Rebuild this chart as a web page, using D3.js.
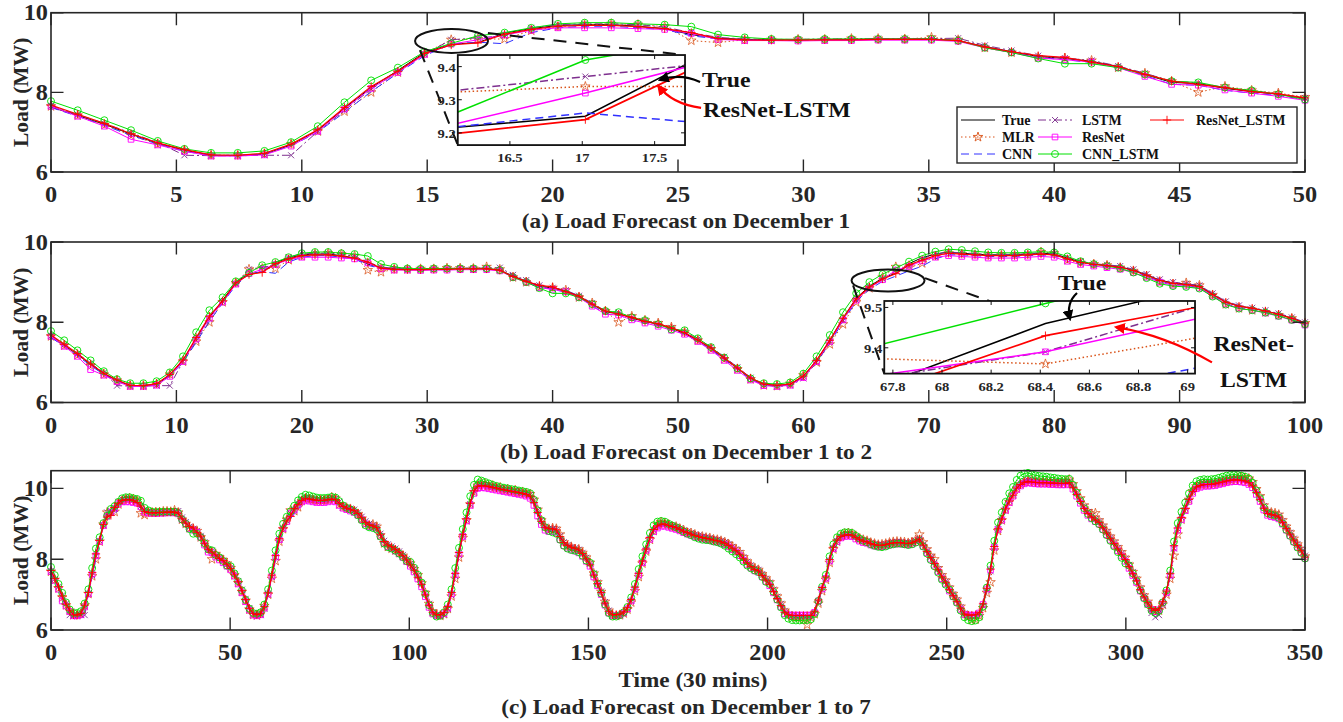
<!DOCTYPE html>
<html>
<head>
<meta charset="utf-8">
<script src="https://cdn.jsdelivr.net/npm/d3@7"></script>
<style>
  body { margin: 0; background: #fff; }
  text { font-family: "Liberation Serif", "Times New Roman", serif; font-weight: bold; fill: #262626; }
</style>
</head>
<body>
<svg id="chart" width="1343" height="722"></svg>
<script>
// ---- data: one value per 30 min, Dec 1 .. Dec 7 (336 points) ----
var trueLoad = [
  7.63,7.42,7.20,6.95,6.72,6.55,6.42,6.41,6.45,6.68,7.05,7.60,8.12,8.55,9.00,9.21,9.25,9.49,9.60,9.68,9.70,9.70,9.66,9.60,9.45,9.36,9.33,9.32,9.32,9.33,9.33,9.34,9.34,9.34,9.30,9.15,9.02,8.90,8.85,8.78,8.65,8.45,8.25,8.22,8.10,8.02,7.95,7.85,
  7.72,7.55,7.35,7.10,6.85,6.60,6.45,6.42,6.45,6.65,7.05,7.55,8.10,8.60,8.90,9.10,9.22,9.46,9.61,9.70,9.75,9.72,9.70,9.68,9.68,9.68,9.70,9.72,9.70,9.60,9.50,9.45,9.42,9.38,9.30,9.18,9.05,8.98,8.95,8.90,8.70,8.50,8.40,8.35,8.28,8.20,8.10,7.98,
  7.85,7.70,7.50,7.30,7.00,6.70,6.50,6.42,6.42,6.48,6.65,7.05,7.60,8.20,8.70,9.15,9.60,9.95,10.10,10.12,10.10,10.08,10.05,10.03,10.00,9.98,9.96,9.94,9.92,9.90,9.88,9.85,9.80,9.60,9.30,9.05,8.88,8.85,8.85,8.82,8.62,8.45,8.38,8.33,8.30,8.25,8.15,8.00,
  7.85,7.55,7.30,7.05,6.75,6.52,6.42,6.42,6.44,6.50,6.62,6.85,7.20,7.60,7.95,8.30,8.62,8.85,8.95,9.00,9.00,8.96,8.93,8.90,8.85,8.80,8.76,8.72,8.68,8.65,8.62,8.60,8.58,8.55,8.53,8.50,8.46,8.40,8.32,8.25,8.15,8.02,7.90,7.80,7.72,7.68,7.55,7.42,
  7.30,7.10,6.90,6.70,6.50,6.42,6.40,6.40,6.40,6.40,6.40,6.40,6.52,6.85,7.20,7.50,8.00,8.35,8.55,8.65,8.69,8.70,8.69,8.62,8.56,8.52,8.50,8.45,8.42,8.40,8.40,8.42,8.45,8.47,8.48,8.48,8.46,8.45,8.47,8.52,8.58,8.40,8.22,8.05,7.88,7.70,7.50,7.35,
  7.15,6.98,6.82,6.62,6.45,6.42,6.42,6.43,6.50,6.75,7.20,7.75,8.40,8.90,9.16,9.45,9.68,9.85,10.05,10.15,10.22,10.25,10.22,10.21,10.20,10.20,10.20,10.19,10.19,10.18,10.18,10.18,10.20,10.05,9.85,9.65,9.45,9.30,9.20,9.12,9.05,8.90,8.75,8.60,8.45,8.30,8.15,8.00,
  7.80,7.60,7.40,7.15,6.95,6.78,6.62,6.55,6.60,6.80,7.10,7.60,8.40,8.90,9.20,9.45,9.72,9.95,10.08,10.12,10.15,10.15,10.16,10.17,10.20,10.22,10.25,10.27,10.28,10.28,10.27,10.25,10.20,10.10,9.90,9.70,9.45,9.30,9.27,9.25,9.20,9.05,8.88,8.72,8.55,8.40,8.25,8.07
];
var mlrLoad = [
  7.65,7.42,7.18,6.92,6.70,6.55,6.42,6.42,6.46,6.70,7.02,7.52,8.00,8.50,8.98,9.32,9.34,9.34,9.55,9.65,9.70,9.72,9.70,9.65,9.30,9.25,9.32,9.32,9.33,9.33,9.35,9.35,9.34,9.38,9.32,9.12,9.00,8.88,8.86,8.80,8.62,8.48,8.28,8.00,8.15,8.05,7.98,7.88,
  7.75,7.55,7.33,7.08,6.83,6.58,6.43,6.41,6.47,6.68,7.00,7.45,7.95,8.50,8.85,9.12,9.38,9.36,9.47,9.65,9.72,9.70,9.68,9.66,9.67,9.67,9.68,9.75,9.72,9.55,9.48,9.45,9.42,9.36,9.28,9.15,9.00,8.95,8.98,8.92,8.68,8.45,8.35,8.30,8.25,8.18,8.10,7.98,
  7.88,7.72,7.55,7.32,7.05,6.74,6.52,6.44,6.40,6.45,6.60,6.95,7.45,8.05,8.60,9.10,9.55,9.90,10.08,10.15,10.12,10.06,10.08,10.02,10.03,9.96,9.98,9.92,9.95,9.88,9.90,9.86,9.84,9.68,9.40,9.10,8.92,8.83,8.88,8.86,8.70,8.48,8.36,8.35,8.28,8.28,8.18,8.05,
  7.90,7.60,7.35,7.08,6.80,6.55,6.43,6.40,6.42,6.47,6.58,6.78,7.10,7.50,7.88,8.22,8.55,8.80,8.98,9.05,9.02,8.98,8.92,8.92,8.86,8.82,8.75,8.74,8.70,8.64,8.64,8.61,8.60,8.56,8.55,8.52,8.48,8.43,8.36,8.28,8.20,8.06,7.94,7.82,7.74,7.70,7.58,7.46,
  7.35,7.15,6.95,6.75,6.55,6.45,6.38,6.35,6.36,6.30,6.15,6.35,6.45,6.75,7.10,7.42,7.90,8.28,8.50,8.64,8.72,8.74,8.72,8.66,8.58,8.55,8.52,8.47,8.44,8.41,8.42,8.44,8.47,8.49,8.50,8.49,8.48,8.46,8.48,8.55,8.70,8.48,8.28,8.10,8.00,7.75,7.55,7.40,
  7.20,7.02,6.86,6.66,6.48,6.38,6.28,6.30,6.40,6.62,7.05,7.35,8.25,8.80,9.10,9.40,9.62,9.82,10.00,10.12,10.18,10.22,10.24,10.20,10.22,10.18,10.21,10.17,10.20,10.16,10.19,10.20,10.25,10.12,9.92,9.72,9.52,9.36,9.28,9.30,9.10,8.95,8.80,8.64,8.50,8.34,8.20,8.04,
  7.85,7.64,7.45,7.20,6.98,6.80,6.62,6.52,6.55,6.72,7.00,7.45,8.10,8.70,9.12,9.40,9.68,9.92,10.06,10.12,10.15,10.13,10.16,10.15,10.18,10.20,10.22,10.25,10.27,10.30,10.32,10.30,10.28,10.18,9.98,9.78,9.52,9.36,9.32,9.30,9.26,9.10,8.92,8.76,8.58,8.42,8.28,8.08
];
var cnnLoad = [
  7.62,7.40,7.17,6.92,6.70,6.52,6.42,6.42,6.45,6.66,7.00,7.50,8.02,8.48,8.92,9.21,9.26,9.22,9.50,9.62,9.66,9.66,9.62,9.58,9.42,9.34,9.32,9.31,9.31,9.32,9.32,9.33,9.33,9.33,9.30,9.14,9.00,8.88,8.82,8.75,8.62,8.42,8.20,8.18,8.05,7.98,7.92,7.82,
  7.70,7.52,7.32,7.08,6.83,6.58,6.44,6.42,6.45,6.64,7.00,7.48,8.02,8.52,8.82,9.02,9.15,9.28,9.40,9.58,9.68,9.68,9.66,9.64,9.64,9.64,9.66,9.68,9.66,9.57,9.47,9.42,9.39,9.35,9.27,9.15,9.02,8.95,8.92,8.86,8.66,8.46,8.36,8.31,8.24,8.16,8.06,7.95,
  7.82,7.66,7.47,7.26,6.97,6.68,6.49,6.41,6.43,6.50,6.68,7.08,7.62,8.18,8.66,9.10,9.55,9.90,10.05,10.08,10.07,10.05,10.02,10.00,9.97,9.95,9.93,9.91,9.89,9.87,9.85,9.82,9.76,9.58,9.30,9.06,8.90,8.84,8.82,8.78,8.60,8.44,8.36,8.31,8.28,8.22,8.12,7.97,
  7.80,7.52,7.27,7.02,6.73,6.51,6.42,6.43,6.45,6.52,6.64,6.88,7.22,7.60,7.93,8.27,8.58,8.81,8.92,8.96,8.96,8.93,8.90,8.87,8.83,8.78,8.74,8.70,8.66,8.63,8.60,8.58,8.56,8.53,8.51,8.48,8.44,8.38,8.30,8.23,8.13,8.00,7.88,7.78,7.70,7.65,7.52,7.39,
  7.26,7.06,6.86,6.66,6.48,6.41,6.40,6.40,6.40,6.40,6.40,6.41,6.54,6.86,7.20,7.50,7.98,8.32,8.52,8.62,8.66,8.67,8.66,8.60,8.54,8.50,8.48,8.43,8.40,8.38,8.38,8.40,8.43,8.45,8.46,8.46,8.44,8.43,8.45,8.49,8.54,8.38,8.20,8.02,7.85,7.67,7.47,7.32,
  7.12,6.95,6.79,6.60,6.44,6.42,6.42,6.43,6.50,6.76,7.22,7.76,8.38,8.86,9.12,9.40,9.62,9.80,9.99,10.09,10.16,10.18,10.16,10.15,10.14,10.14,10.14,10.13,10.13,10.12,10.12,10.12,10.14,10.00,9.82,9.62,9.43,9.28,9.18,9.10,9.02,8.87,8.72,8.57,8.42,8.27,8.12,7.97,
  7.76,7.56,7.36,7.12,6.92,6.76,6.60,6.54,6.60,6.82,7.12,7.60,8.36,8.85,9.15,9.40,9.66,9.88,10.02,10.06,10.09,10.09,10.10,10.11,10.14,10.16,10.19,10.21,10.22,10.22,10.21,10.19,10.14,10.05,9.86,9.66,9.42,9.27,9.23,9.21,9.16,9.02,8.85,8.69,8.52,8.37,8.22,8.04
];
var lstmLoad = [
  7.66,7.44,7.22,6.98,6.74,6.42,6.41,6.41,6.42,6.42,7.02,7.55,8.08,8.52,8.96,9.32,9.37,9.42,9.62,9.70,9.72,9.72,9.70,9.64,9.50,9.38,9.34,9.33,9.33,9.34,9.34,9.35,9.35,9.35,9.36,9.18,9.05,8.92,8.86,8.80,8.66,8.48,8.28,8.24,8.12,8.04,7.96,7.86,
  7.76,7.58,7.38,7.14,6.88,6.62,6.44,6.40,6.42,6.60,7.00,7.50,8.05,8.55,8.86,9.08,9.29,9.39,9.58,9.70,9.75,9.73,9.71,9.69,9.69,9.69,9.71,9.73,9.71,9.62,9.52,9.46,9.43,9.40,9.32,9.20,9.07,9.00,8.96,8.92,8.72,8.52,8.42,8.36,8.30,8.22,8.12,8.00,
  7.87,7.73,7.54,7.33,7.04,6.74,6.50,6.40,6.40,6.44,6.60,6.98,7.52,8.12,8.65,9.12,9.56,9.92,10.08,10.12,10.11,10.09,10.06,10.04,10.01,9.99,9.97,9.95,9.93,9.91,9.89,9.86,9.82,9.66,9.38,9.10,8.92,8.86,8.86,8.84,8.66,8.48,8.40,8.34,8.31,8.27,8.18,8.04,
  7.88,7.60,7.34,7.09,6.79,6.55,6.42,6.40,6.42,6.48,6.60,6.82,7.14,7.54,7.90,8.25,8.57,8.82,8.94,9.00,9.01,8.98,8.95,8.92,8.87,8.82,8.78,8.74,8.70,8.67,8.64,8.62,8.60,8.57,8.55,8.52,8.48,8.43,8.35,8.28,8.18,8.06,7.93,7.83,7.74,7.70,7.58,7.45,
  7.34,7.14,6.94,6.74,6.54,6.44,6.40,6.38,6.38,6.38,6.38,6.38,6.48,6.78,7.14,7.45,7.94,8.30,8.52,8.64,8.69,8.71,8.70,8.64,8.58,8.54,8.51,8.46,8.43,8.41,8.41,8.43,8.46,8.48,8.49,8.49,8.47,8.46,8.48,8.52,8.58,8.42,8.24,8.07,7.90,7.72,7.52,7.37,
  7.18,7.01,6.85,6.65,6.47,6.41,6.40,6.41,6.46,6.68,7.12,7.66,8.32,8.84,9.12,9.42,9.65,9.83,10.03,10.14,10.21,10.24,10.23,10.21,10.20,10.20,10.20,10.19,10.19,10.18,10.18,10.18,10.20,10.08,9.88,9.68,9.48,9.33,9.22,9.14,9.07,8.92,8.77,8.62,8.47,8.32,8.17,8.02,
  7.84,7.64,7.44,7.18,6.96,6.72,6.48,6.36,6.42,6.70,7.04,7.52,8.30,8.86,9.18,9.44,9.70,9.93,10.07,10.12,10.15,10.15,10.16,10.17,10.20,10.22,10.25,10.27,10.28,10.28,10.27,10.25,10.22,10.14,9.94,9.74,9.50,9.34,9.29,9.26,9.22,9.08,8.91,8.75,8.58,8.43,8.28,8.10
];
var resnetLoad = [
  7.65,7.40,7.15,6.82,6.68,6.52,6.40,6.40,6.43,6.65,7.02,7.58,8.10,8.50,8.95,9.21,9.32,9.44,9.56,9.62,9.62,9.62,9.60,9.58,9.48,9.33,9.30,9.30,9.29,9.30,9.30,9.31,9.31,9.31,9.28,9.12,9.00,8.86,8.82,8.76,8.62,8.40,8.20,8.18,8.06,7.98,7.90,7.80,
  7.70,7.52,7.30,7.05,6.80,6.56,6.42,6.40,6.43,6.62,7.02,7.52,8.06,8.55,8.86,9.06,9.30,9.39,9.53,9.62,9.66,9.64,9.62,9.60,9.60,9.60,9.62,9.64,9.62,9.52,9.44,9.40,9.36,9.32,9.24,9.12,9.00,8.92,8.90,8.85,8.65,8.45,8.35,8.30,8.23,8.15,8.05,7.93,
  7.80,7.64,7.44,7.22,6.94,6.64,6.45,6.40,6.41,6.46,6.62,7.02,7.56,8.15,8.64,9.08,9.52,9.86,10.00,10.02,10.01,9.99,9.97,9.95,9.93,9.91,9.89,9.87,9.85,9.83,9.81,9.78,9.72,9.52,9.22,8.98,8.82,8.78,8.78,8.74,8.55,8.38,8.31,8.26,8.23,8.18,8.08,7.94,
  7.80,7.50,7.25,7.00,6.70,6.48,6.40,6.40,6.42,6.48,6.60,6.82,7.16,7.56,7.90,8.25,8.56,8.78,8.88,8.93,8.93,8.90,8.87,8.84,8.80,8.75,8.71,8.67,8.63,8.60,8.57,8.55,8.53,8.50,8.48,8.45,8.41,8.35,8.27,8.20,8.10,7.97,7.85,7.75,7.67,7.63,7.50,7.37,
  7.25,7.05,6.85,6.65,6.46,6.42,6.42,6.42,6.42,6.42,6.42,6.42,6.50,6.82,7.16,7.46,7.95,8.30,8.50,8.60,8.64,8.65,8.64,8.57,8.51,8.47,8.45,8.40,8.37,8.35,8.35,8.37,8.40,8.42,8.43,8.43,8.41,8.40,8.42,8.47,8.53,8.36,8.18,8.00,7.83,7.65,7.45,7.30,
  7.10,6.94,6.78,6.58,6.43,6.42,6.42,6.42,6.48,6.72,7.16,7.70,8.34,8.84,9.10,9.38,9.60,9.78,9.97,10.07,10.13,10.16,10.14,10.13,10.12,10.12,10.12,10.11,10.11,10.10,10.10,10.10,10.12,9.98,9.78,9.58,9.38,9.24,9.14,9.06,8.99,8.84,8.69,8.54,8.39,8.24,8.09,7.94,
  7.74,7.54,7.34,7.10,6.90,6.74,6.58,6.52,6.57,6.77,7.06,7.55,8.32,8.82,9.12,9.37,9.63,9.86,9.99,10.03,10.06,10.06,10.07,10.08,10.11,10.13,10.16,10.18,10.19,10.19,10.18,10.16,10.11,10.02,9.83,9.63,9.39,9.24,9.20,9.18,9.14,8.99,8.82,8.66,8.49,8.34,8.19,8.02
];
var cnnLstmLoad = [
  7.78,7.55,7.30,7.05,6.78,6.58,6.48,6.48,6.53,6.75,7.15,7.75,8.30,8.62,9.02,9.23,9.42,9.50,9.62,9.72,9.75,9.75,9.72,9.70,9.65,9.45,9.38,9.34,9.33,9.34,9.34,9.34,9.34,9.34,9.30,9.12,9.00,8.85,8.72,8.72,8.62,8.45,8.28,8.25,8.12,8.05,7.95,7.82,
  7.80,7.60,7.38,7.12,6.85,6.60,6.48,6.46,6.50,6.72,7.15,7.68,8.25,8.72,9.00,9.20,9.35,9.51,9.66,9.76,9.82,9.80,9.77,9.74,9.73,9.73,9.74,9.76,9.74,9.64,9.52,9.45,9.40,9.34,9.24,9.10,8.96,8.90,8.88,8.84,8.64,8.44,8.34,8.30,8.24,8.16,8.06,7.95,
  7.92,7.76,7.56,7.34,7.02,6.70,6.48,6.38,6.40,6.50,6.72,7.15,7.75,8.32,8.85,9.32,9.78,10.10,10.25,10.22,10.18,10.14,10.10,10.07,10.04,10.02,10.00,9.98,9.96,9.94,9.92,9.90,9.86,9.68,9.38,9.10,8.90,8.80,8.76,8.72,8.55,8.38,8.30,8.26,8.24,8.20,8.10,7.96,
  7.90,7.58,7.30,7.03,6.72,6.48,6.38,6.38,6.42,6.50,6.65,6.92,7.30,7.72,8.08,8.42,8.74,8.96,9.06,9.08,9.06,9.00,8.95,8.90,8.84,8.78,8.72,8.68,8.62,8.58,8.55,8.54,8.53,8.50,8.48,8.44,8.38,8.30,8.22,8.14,8.05,7.93,7.82,7.74,7.68,7.64,7.50,7.36,
  7.30,7.08,6.86,6.64,6.42,6.32,6.28,6.27,6.27,6.28,6.28,6.30,6.45,6.82,7.22,7.56,8.08,8.42,8.62,8.72,8.76,8.76,8.74,8.66,8.58,8.52,8.48,8.42,8.38,8.35,8.34,8.36,8.40,8.42,8.44,8.44,8.42,8.40,8.42,8.47,8.52,8.36,8.16,7.98,7.80,7.62,7.42,7.28,
  7.14,6.95,6.77,6.55,6.36,6.28,6.25,6.27,6.36,6.66,7.20,7.82,8.52,9.04,9.32,9.62,9.86,10.04,10.24,10.36,10.42,10.44,10.40,10.37,10.35,10.34,10.33,10.31,10.30,10.28,10.27,10.26,10.27,10.10,9.88,9.66,9.44,9.28,9.16,9.07,8.99,8.84,8.68,8.52,8.36,8.20,8.04,7.88,
  7.82,7.60,7.38,7.12,6.90,6.72,6.55,6.48,6.54,6.78,7.12,7.68,8.50,9.02,9.34,9.60,9.86,10.08,10.20,10.24,10.26,10.25,10.26,10.27,10.30,10.33,10.36,10.38,10.39,10.38,10.36,10.33,10.28,10.16,9.94,9.72,9.46,9.30,9.26,9.23,9.17,9.01,8.83,8.66,8.49,8.33,8.18,8.02
];
var resnetLstmLoad = [
  7.68,7.45,7.22,6.96,6.73,6.56,6.43,6.42,6.47,6.70,7.06,7.62,8.15,8.53,8.98,9.19,9.24,9.46,9.58,9.66,9.68,9.68,9.65,9.60,9.50,9.35,9.32,9.31,9.31,9.32,9.32,9.33,9.33,9.33,9.30,9.14,9.02,8.92,8.88,8.76,8.65,8.45,8.28,8.20,8.12,8.02,7.96,7.86,
  7.74,7.56,7.36,7.11,6.86,6.61,6.46,6.43,6.46,6.66,7.05,7.55,8.10,8.58,8.88,9.08,9.21,9.43,9.55,9.66,9.72,9.70,9.68,9.66,9.66,9.66,9.68,9.70,9.68,9.58,9.49,9.44,9.41,9.37,9.29,9.17,9.04,8.97,8.94,8.89,8.69,8.50,8.40,8.35,8.28,8.20,8.10,7.98,
  7.84,7.69,7.49,7.29,6.99,6.70,6.50,6.43,6.43,6.49,6.66,7.06,7.60,8.19,8.69,9.14,9.58,9.93,10.06,10.08,10.07,10.05,10.03,10.01,9.98,9.96,9.94,9.92,9.90,9.88,9.86,9.83,9.78,9.60,9.32,9.07,8.90,8.86,8.86,8.83,8.64,8.47,8.39,8.34,8.31,8.26,8.16,8.01,
  7.84,7.55,7.31,7.06,6.76,6.53,6.43,6.43,6.45,6.51,6.63,6.86,7.21,7.60,7.95,8.29,8.61,8.84,8.94,8.99,8.99,8.95,8.92,8.89,8.84,8.79,8.75,8.71,8.67,8.64,8.61,8.59,8.57,8.54,8.52,8.49,8.45,8.39,8.31,8.24,8.14,8.01,7.89,7.79,7.71,7.67,7.54,7.41,
  7.29,7.09,6.89,6.69,6.50,6.43,6.41,6.41,6.41,6.41,6.41,6.41,6.53,6.85,7.20,7.50,7.99,8.34,8.54,8.64,8.68,8.69,8.68,8.61,8.55,8.51,8.49,8.44,8.41,8.39,8.39,8.41,8.44,8.46,8.47,8.47,8.45,8.44,8.46,8.51,8.57,8.40,8.22,8.05,7.88,7.70,7.50,7.35,
  7.14,6.97,6.81,6.62,6.45,6.42,6.42,6.43,6.50,6.74,7.18,7.72,8.36,8.86,9.13,9.42,9.64,9.81,10.01,10.11,10.17,10.20,10.18,10.17,10.16,10.16,10.16,10.15,10.15,10.14,10.14,10.14,10.16,10.02,9.83,9.63,9.43,9.29,9.19,9.11,9.04,8.89,8.74,8.59,8.44,8.29,8.14,7.99,
  7.79,7.59,7.39,7.14,6.94,6.77,6.61,6.55,6.60,6.80,7.10,7.59,8.38,8.88,9.18,9.43,9.69,9.91,10.04,10.08,10.11,10.11,10.12,10.13,10.16,10.18,10.21,10.23,10.24,10.24,10.23,10.21,10.16,10.07,9.88,9.68,9.44,9.29,9.26,9.24,9.19,9.04,8.87,8.71,8.54,8.39,8.24,8.06
];

var seriesNames = ["True", "MLR", "CNN", "LSTM", "ResNet", "CNN_LSTM", "ResNet_LSTM"];
var seriesValues = [trueLoad, mlrLoad, cnnLoad, lstmLoad, resnetLoad, cnnLstmLoad, resnetLstmLoad];
var seriesColors = ["#000000", "#D95319", "#3030ff", "#7E2F8E", "#FF00FF", "#00E000", "#FF0000"];
var seriesDash = [null, "1.5,2.5", "8,5", "8,3,2,3", null, null, null];
var seriesMarker = [null, "star", null, "x", "square", "circle", "plus"];

seriesValues.forEach(function(v, k) {
  if (v.length !== 336) throw new Error(seriesNames[k] + " has " + v.length + " values");
});

var axisColor = "#262626";
var L = 51, R = 1305;
var svg = d3.select("#chart");
var defs = svg.append("defs");

["black", "red"].forEach(function(c) {
  defs.append("marker")
      .attr("id", "arrow-" + c)
      .attr("viewBox", "0 0 10 10")
      .attr("refX", 8).attr("refY", 5)
      .attr("markerWidth", 11).attr("markerHeight", 11)
      .attr("markerUnits", "userSpaceOnUse")
      .attr("orient", "auto")
    .append("path")
      .attr("d", "M0,0L10,5L0,10z")
      .attr("fill", c);
});

function markerPath(type) {
  if (type === "circle") return d3.symbol(d3.symbolCircle, 38)();
  if (type === "square") return d3.symbol(d3.symbolSquare, 32)();
  if (type === "star") return d3.symbol(d3.symbolStar, 28)();
  if (type === "x") return "M-3,-3L3,3M-3,3L3,-3";
  if (type === "plus") return "M-4.2,0H4.2M0,-4.2V4.2";
}

// horizontal text, slightly widened like the source figure
function hText(g, x, y, str, size, anchor) {
  return g.append("text")
    .attr("transform", "translate(" + x + "," + y + ") scale(1.08,1)")
    .attr("text-anchor", anchor || "middle")
    .style("font-size", size + "px")
    .text(str);
}

function drawSeries(g, x, y, pts, k, clipId, lw, markerPts) {
  g.append("path")
      .datum(pts)
      .attr("clip-path", "url(#" + clipId + ")")
      .attr("fill", "none")
      .attr("stroke", seriesColors[k])
      .attr("stroke-width", k === 6 ? lw + 0.2 : lw)
      .attr("stroke-dasharray", seriesDash[k])
      .attr("d", d3.line().x(function(d) { return x(d[0]); }).y(function(d) { return y(d[1]); }));
  if (seriesMarker[k]) {
    var m = g.append("g");
    if (markerPts) m.attr("clip-path", "url(#" + clipId + ")");
    m.selectAll("path")
      .data(markerPts || pts)
      .join("path")
        .attr("transform", function(d) { return "translate(" + x(d[0]) + "," + y(d[1]) + ")"; })
        .attr("d", markerPath(seriesMarker[k]))
        .attr("fill", "none")
        .attr("stroke", seriesColors[k])
        .attr("stroke-width", seriesMarker[k] === "star" ? 0.75 : 0.9);
  }
}

// ---- panels ----
var panels = [
  { id: "a", n: 48, xMax: 50, yMax: 10, top: 12.7, bottom: 172, xTicks: d3.range(0, 51, 5),
    title: "(a) Load Forecast on December 1", titleY: 228 },
  { id: "b", n: 96, xMax: 100, yMax: 10, top: 242, bottom: 402.5, xTicks: d3.range(0, 101, 10),
    title: "(b) Load Forecast on December 1 to 2", titleY: 459 },
  { id: "c", n: 336, xMax: 350, yMax: 10.5, top: 470.7, bottom: 630, xTicks: d3.range(0, 351, 50),
    title: "(c) Load Forecast on December 1 to 7", titleY: 714, xLabel: "Time (30 mins)" }
];
var yTicks = [6, 8, 10];

function drawPanel(p) {
  var x = d3.scaleLinear().domain([0, p.xMax]).range([L, R]);
  var y = d3.scaleLinear().domain([6, p.yMax]).range([p.bottom, p.top]);
  var g = svg.append("g");
  defs.append("clipPath").attr("id", "clip-" + p.id)
    .append("rect").attr("x", L).attr("y", p.top).attr("width", R - L).attr("height", p.bottom - p.top);

  seriesValues.forEach(function(vals, k) {
    var pts = vals.slice(0, p.n).map(function(v, i) { return [i * p.xMax / (p.n - 1), v]; });
    drawSeries(g, x, y, pts, k, "clip-" + p.id, 1);
  });

  // frame and inward ticks on all four sides
  g.append("rect").attr("x", L).attr("y", p.top).attr("width", R - L).attr("height", p.bottom - p.top)
    .attr("fill", "none").attr("stroke", axisColor).attr("stroke-width", 1.6);
  var tk = 12.5;
  p.xTicks.forEach(function(t) {
    g.append("path").attr("d", "M" + x(t) + "," + p.bottom + "v" + (-tk) + "M" + x(t) + "," + p.top + "v" + tk)
      .attr("stroke", axisColor).attr("stroke-width", 1.4);
    hText(g, x(t), p.bottom + 30, t, 22.5);
  });
  yTicks.forEach(function(t) {
    g.append("path").attr("d", "M" + L + "," + y(t) + "h" + tk + "M" + R + "," + y(t) + "h" + (-tk))
      .attr("stroke", axisColor).attr("stroke-width", 1.4);
    hText(g, L - 3, y(t) + 7.5, t, 22.5, "end");
  });
  g.append("text")
    .attr("transform", "translate(28," + ((p.top + p.bottom) / 2) + ") rotate(-90)")
    .attr("text-anchor", "middle").style("font-size", "21.5px").text("Load (MW)");
  if (p.xLabel) hText(g, 693, 687, p.xLabel, 21.5);
  hText(g, 686, p.titleY, p.title, 21.5);
  return { x: x, y: y, g: g, p: p };
}

var hosts = panels.map(drawPanel);

// ---- zoomed insets ----
var insets = [
  { host: 0, id: "ia", box: [16.22, 25.28, 8.937, 6.676], xDomain: [16.14, 17.71], yDomain: [9.163, 9.435],
    idx: [14, 19], xTicks: [16.5, 17, 17.5], yTicks: [9.2, 9.3, 9.4] },
  { host: 1, id: "ib", box: [66.45, 91.23, 8.53, 6.72], xDomain: [67.765, 69.03], yDomain: [9.336, 9.516],
    idx: [62, 68], xTicks: [67.8, 68, 68.2, 68.4, 68.6, 68.8, 69], yTicks: [9.4, 9.5] }
];

function drawInset(c) {
  var h = hosts[c.host];
  var x0 = h.x(c.box[0]), x1 = h.x(c.box[1]), y0 = h.y(c.box[2]), y1 = h.y(c.box[3]);
  var x = d3.scaleLinear().domain(c.xDomain).range([x0, x1]);
  var y = d3.scaleLinear().domain(c.yDomain).range([y1, y0]);
  var g = svg.append("g");
  defs.append("clipPath").attr("id", "clip-" + c.id)
    .append("rect").attr("x", x0).attr("y", y0).attr("width", x1 - x0).attr("height", y1 - y0);
  g.append("rect").attr("x", x0).attr("y", y0).attr("width", x1 - x0).attr("height", y1 - y0).attr("fill", "#fff");
  seriesValues.forEach(function(vals, k) {
    var pts = d3.range(c.idx[0], c.idx[1]).map(function(i) { return [i * h.p.xMax / (h.p.n - 1), vals[i]]; });
    var inside = pts.filter(function(d) { return d[0] >= c.xDomain[0] && d[0] <= c.xDomain[1]; });
    drawSeries(g, x, y, pts, k, "clip-" + c.id, 1.5, inside);
  });
  g.append("rect").attr("x", x0).attr("y", y0).attr("width", x1 - x0).attr("height", y1 - y0)
    .attr("fill", "none").attr("stroke", "#111").attr("stroke-width", 1.8);
  var tk = 4;
  c.xTicks.forEach(function(t) {
    g.append("path").attr("d", "M" + x(t) + "," + y1 + "v" + (-tk) + "M" + x(t) + "," + y0 + "v" + tk)
      .attr("stroke", "#111").attr("stroke-width", 1);
    hText(g, x(t), y1 + 17, t, 13.5);
  });
  c.yTicks.forEach(function(t) {
    g.append("path").attr("d", "M" + x0 + "," + y(t) + "h" + tk + "M" + x1 + "," + y(t) + "h" + (-tk))
      .attr("stroke", "#111").attr("stroke-width", 1);
    hText(g, x0 - 2, y(t) + 5, t.toFixed(1), 13.5, "end");
  });
}

// ---- ellipses, connectors and arrows (host data units) ----
var callouts = [
  { host: 0, ellipse: [15.97, 9.29, 1.455, 0.30],
    links: [[14.71, 9.06, 16.22, 6.676], [17.42, 9.49, 25.28, 8.937]] },
  { host: 1, ellipse: [66.75, 9.04, 2.91, 0.275],
    links: [[63.96, 8.92, 66.45, 6.72], [69.70, 9.10, 75.04, 8.505]] }
];
var notes = [
  { host: 0, lines: ["True"], at: [25.96, 8.134], anchor: "start" },
  { host: 0, lines: ["ResNet-LSTM"], at: [26.0, 7.38], anchor: "start" },
  { host: 1, lines: ["True"], at: [80.3, 8.816], anchor: "start" },
  { host: 1, lines: ["ResNet-", "LSTM"], at: [95.9, 7.283], anchor: "middle" }
];
var arrows = [
  { host: 0, color: "black", pts: [[25.88, 8.26], [25.08, 8.49], [24.28, 8.31]] },
  { host: 0, color: "red", pts: [[25.92, 7.61], [24.76, 7.71], [24.22, 8.16]] },
  { host: 1, color: "black", pts: [[81.82, 8.73], [80.94, 8.48], [81.26, 8.08]] },
  { host: 1, color: "red", pts: [[92.58, 7.0], [88.84, 7.68], [84.93, 7.88]] }
];

callouts.forEach(function(c) {
  var h = hosts[c.host], e = c.ellipse;
  svg.append("ellipse")
    .attr("cx", h.x(e[0])).attr("cy", h.y(e[1]))
    .attr("rx", h.x(e[0] + e[2]) - h.x(e[0])).attr("ry", h.y(e[1] - e[3]) - h.y(e[1]))
    .attr("fill", "none").attr("stroke", "#111").attr("stroke-width", 2);
  c.links.forEach(function(l) {
    svg.append("line")
      .attr("x1", h.x(l[0])).attr("y1", h.y(l[1])).attr("x2", h.x(l[2])).attr("y2", h.y(l[3]))
      .attr("stroke", "#111").attr("stroke-width", 2).attr("stroke-dasharray", "13,9");
  });
});

insets.forEach(drawInset);

notes.forEach(function(n) {
  var h = hosts[n.host];
  n.lines.forEach(function(s, i) {
    hText(svg, h.x(n.at[0]), h.y(n.at[1]) + i * 36, s, 22, n.anchor).style("fill", "#111");
  });
});

arrows.forEach(function(a) {
  var h = hosts[a.host];
  var p = a.pts.map(function(d) { return [h.x(d[0]), h.y(d[1])]; });
  svg.append("path")
    .attr("d", "M" + p[0] + "Q" + p[1] + " " + p[2])
    .attr("fill", "none").attr("stroke", a.color).attr("stroke-width", 2.2)
    .attr("marker-end", "url(#arrow-" + a.color + ")");
});

// ---- legend (panel a) ----
var legendCols = [[0, 1, 2], [3, 4, 5], [6]];
var legendColX = [961, 1038, 1150];
var legendTextX = [1002, 1082, 1196];
var legendRowY = [120, 137, 154];
var lg = svg.append("g");
lg.append("rect").attr("x", 957).attr("y", 107).attr("width", 340).attr("height", 56)
  .attr("fill", "#fff").attr("stroke", axisColor).attr("stroke-width", 1.4);
legendCols.forEach(function(col, ci) {
  col.forEach(function(k, ri) {
    var ly = legendRowY[ri], lx = legendColX[ci];
    lg.append("line").attr("x1", lx).attr("x2", lx + 34).attr("y1", ly).attr("y2", ly)
      .attr("stroke", seriesColors[k]).attr("stroke-width", 1).attr("stroke-dasharray", seriesDash[k]);
    if (seriesMarker[k])
      lg.append("path").attr("transform", "translate(" + (lx + 17) + "," + ly + ")")
        .attr("d", markerPath(seriesMarker[k])).attr("fill", "none")
        .attr("stroke", seriesColors[k]).attr("stroke-width", 0.9);
    lg.append("text").attr("x", legendTextX[ci]).attr("y", ly + 5).style("font-size", "14px")
      .style("fill", "#111").text(seriesNames[k]);
  });
});
</script>
</body>
</html>
